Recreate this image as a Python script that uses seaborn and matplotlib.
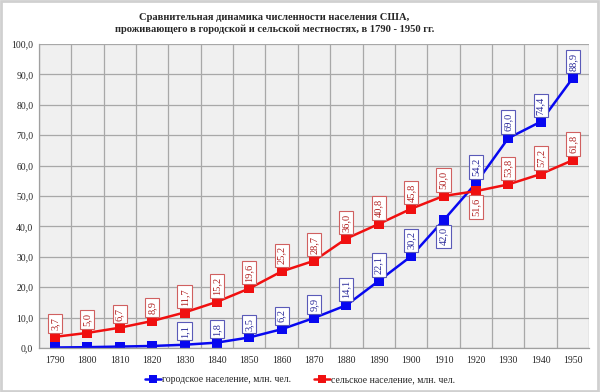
import numpy as np
import pandas as pd
import matplotlib
matplotlib.use("Agg")
import matplotlib.pyplot as plt
from matplotlib.ticker import FuncFormatter, MultipleLocator, FixedLocator
from matplotlib.patches import Rectangle
import seaborn as sns

# данные
years = [1790, 1800, 1810, 1820, 1830, 1840, 1850, 1860, 1870,
         1880, 1890, 1900, 1910, 1920, 1930, 1940, 1950]
urban = [0.2, 0.3, 0.5, 0.7, 1.1, 1.8, 3.5, 6.2, 9.9,
         14.1, 22.1, 30.2, 42.0, 54.2, 69.0, 74.4, 88.9]
rural = [3.7, 5.0, 6.7, 8.9, 11.7, 15.2, 19.6, 25.2, 28.7,
         36.0, 40.8, 45.8, 50.0, 51.6, 53.8, 57.2, 61.8]
urban_label = "городское население, млн. чел."
rural_label = "сельское население, млн. чел."
title = ("Сравнительная динамика численности населения США,\n"
         "проживающего в городской и сельской местностях, в 1790 - 1950 гг.")

df = pd.DataFrame({"year": years * 2,
                   "value": urban + rural,
                   "series": [urban_label] * len(years) + [rural_label] * len(years)})

sns.set_style("whitegrid")
plt.rcParams["font.family"] = ["Liberation Serif", "DejaVu Serif"]

fig = plt.figure(figsize=(6, 3.92), dpi=100)
ax = fig.add_axes([0.0647, 0.112, 0.9173, 0.776])
ax.set_facecolor("#f0f0f0")

blue = "#0808f0"
red = "#f01010"
sns.lineplot(data=df, x="year", y="value", hue="series",
             palette={urban_label: blue, rural_label: red},
             marker="s", markersize=7, markeredgewidth=0, linewidth=1.8,
             ax=ax, legend=True)

ax.set_xlim(1785, 1955)
ax.set_ylim(0, 100)
ax.xaxis.set_major_locator(FixedLocator(years))
ax.xaxis.set_minor_locator(MultipleLocator(10, offset=5))
ax.yaxis.set_major_locator(MultipleLocator(10))
ax.yaxis.set_major_formatter(FuncFormatter(lambda v, p: f"{v:.1f}".replace(".", ",")))
ax.grid(False)
ax.grid(True, which="minor", axis="x", color="#a8a8a8", linewidth=0.9)
ax.grid(True, which="major", axis="y", color="#a8a8a8", linewidth=0.9)
ax.tick_params(axis="x", which="major", length=0, labelsize=7, pad=6)
ax.tick_params(axis="x", which="minor", length=4, color="#a0a0a0", direction="out")
ax.tick_params(axis="y", length=0, labelsize=7, pad=4)
ax.set_xlabel("")
ax.set_ylabel("")
for s in ["top", "right"]:
    ax.spines[s].set_visible(False)
for s in ["left", "bottom"]:
    ax.spines[s].set_color("#a0a0a0")
    ax.spines[s].set_linewidth(0.9)

# подписи значений
def put_labels(vals, col, edge, below=(), skip=()):
    for y, v in zip(years, vals):
        if y in skip:
            continue
        dy = -5 if y in below else 5
        ax.annotate(f"{v:.1f}".replace(".", ","), (y, v), xytext=(0, dy),
                    textcoords="offset points", rotation=90, ha="center",
                    va="top" if y in below else "bottom", fontsize=7.5, color=col,
                    bbox=dict(boxstyle="square,pad=0.25", fc="white", ec=edge, lw=0.8))

put_labels(urban, "#2a2a9a", "#5a5ab8", below=(1910,), skip=(1790, 1800, 1810, 1820))
put_labels(rural, "#b02020", "#d06060", below=(1920,))

leg = ax.legend(loc="upper center", bbox_to_anchor=(0.475, -0.06), ncol=2, frameon=False,
                fontsize=7, handlelength=1.6, handletextpad=0.1, columnspacing=2.4,
                markerscale=0.8)

fig.text(0.457, 0.968, title, ha="center", va="top", fontsize=7.6, fontweight="bold",
         linespacing=1.35)

fig.patches.append(Rectangle((0.002, 0.003), 0.995, 0.994, transform=fig.transFigure,
                             fill=False, ec="#d0d0d0", lw=2))

fig.savefig("out.png", dpi=100)
